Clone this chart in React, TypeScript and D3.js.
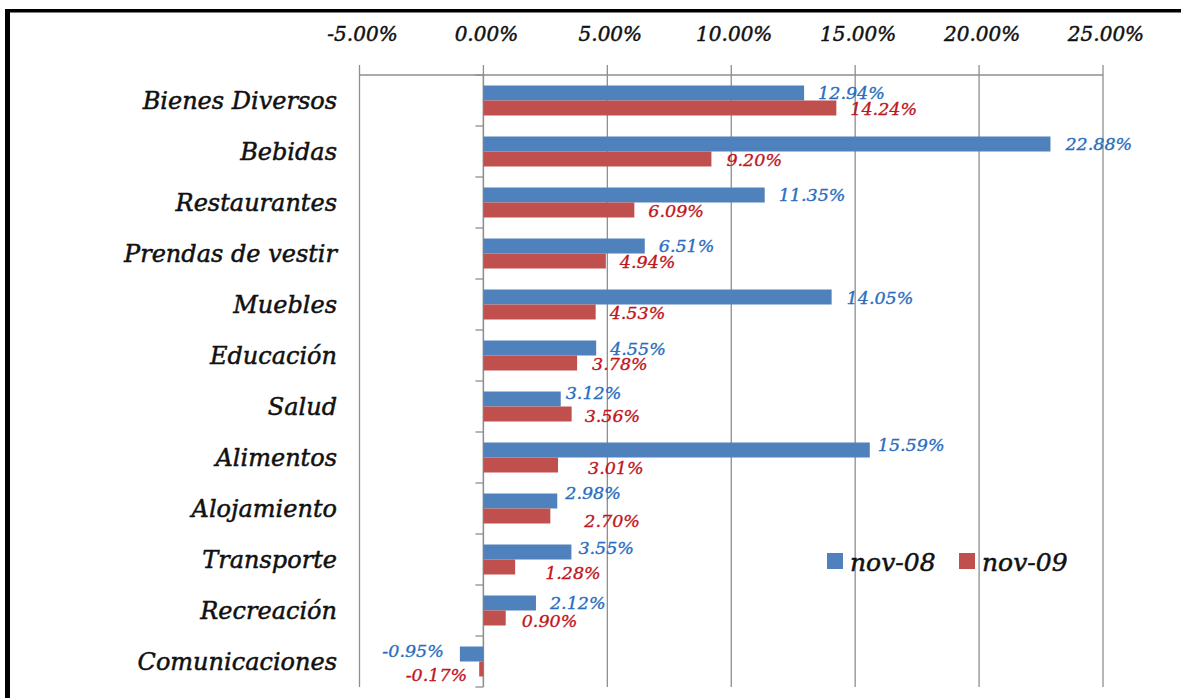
import React from "react";
import * as d3 from "d3";

const categories = [
  "Bienes Diversos",
  "Bebidas",
  "Restaurantes",
  "Prendas de vestir",
  "Muebles",
  "Educación",
  "Salud",
  "Alimentos",
  "Alojamiento",
  "Transporte",
  "Recreación",
  "Comunicaciones",
];
const nov08 = [12.94, 22.88, 11.35, 6.51, 14.05, 4.55, 3.12, 15.59, 2.98, 3.55, 2.12, -0.95];
const nov09 = [14.24, 9.2, 6.09, 4.94, 4.53, 3.78, 3.56, 3.01, 2.7, 1.28, 0.9, -0.17];
const tickValues = [-5, 0, 5, 10, 15, 20, 25];
const seriesNames = ["nov-08", "nov-09"];

// layout tweaks for the data labels (px), kept apart from the data
const blueDx = [14, 15, 14, 14, 15, 14, 5, 8, 8, 7, 14, 16];
const blueDy = [0, 0, 0, 0, 1, 1, -6, -5, -8, -4, 0, -3];
const redDx = [14, 15, 14, 14, 14, 15, 13, 30, 34, 30, 16, 12];
const redDy = [1, 1, 1, 1, 1, 1, 2, 3, 5, 6, 3, 6];

const W = 1181;
const H = 698;
const FONT = "'DejaVu Serif', serif";
const BLUE = "#4F81BD";
const RED = "#C0504D";
const BLUE_TXT = "#2A6EBF";
const RED_TXT = "#C0161C";
const GRID = "#8E8E8E";

const fmt = d3.formatLocale({
  decimal: ".",
  thousands: ",",
  grouping: [3],
  currency: ["$", ""],
  minus: "-",
}).format(".2f");
const pct = (v: number) => fmt(v) + "%";

export default function App() {
  const x = d3.scaleLinear().domain([-5, 25]).range([359.5, 1103]);
  const y = d3.scaleBand<string>().domain(categories).range([75, 687]).padding(0);
  const bw = y.bandwidth();
  const barH = bw * 0.294;
  const x0 = x(0);
  const top = 75;
  const bottom = 687;

  const labelFs = 17.5;
  const digitHalf = labelFs * 0.729 * 0.5;

  const renderLabel = (v: number, cy: number, dx: number, dy: number, color: string, key: string) => {
    const end = x(v);
    const neg = v < 0;
    return (
      <text
        key={key}
        x={neg ? end - dx : end + dx}
        y={cy + dy + digitHalf}
        textAnchor={neg ? "end" : "start"}
        fontFamily={FONT}
        fontStyle="italic"
        fontSize={labelFs}
        fill={color}
        stroke={color}
        strokeWidth={0.35}
      >
        {pct(v)}
      </text>
    );
  };

  return (
    <div>
      <style>{"body{margin:0;}"}</style>
      <svg width={W} height={H} style={{ display: "block", background: "#fff" }}>
        {/* frame */}
        <rect x={0} y={0} width={W} height={H} fill="#fff" />
        <line x1={7.5} y1={10} x2={7.5} y2={H} stroke="#000" strokeWidth={5} />
        <line x1={5} y1={10.7} x2={W} y2={10.7} stroke="#000" strokeWidth={3.4} />

        {/* vertical gridlines */}
        {tickValues.map((t) => (
          <line key={"g" + t} x1={x(t)} x2={x(t)} y1={top - 10} y2={bottom} stroke={GRID} strokeWidth={1.3} />
        ))}
        {/* top axis line */}
        <line x1={x(-5)} x2={x(25)} y1={top} y2={top} stroke={GRID} strokeWidth={1.3} />
        {/* tick labels */}
        {tickValues.map((t) => (
          <text
            key={"t" + t}
            x={x(t) + 3}
            y={41}
            textAnchor="middle"
            fontFamily={FONT}
            fontStyle="italic"
            fontSize={20}
            fill="#111"
            stroke="#111"
            strokeWidth={0.45}
          >
            {pct(t)}
          </text>
        ))}

        {/* category axis */}
        <line x1={x0} x2={x0} y1={top} y2={bottom} stroke={GRID} strokeWidth={1.3} />
        {categories.map((c, i) => (
          <line key={"ct" + i} x1={x0 - 8} x2={x0} y1={(y(c) as number) + bw} y2={(y(c) as number) + bw} stroke={GRID} strokeWidth={1.3} />
        ))}
        <line x1={x0 - 8} x2={x0} y1={top} y2={top} stroke={GRID} strokeWidth={1.3} />

        {/* bars */}
        {categories.map((c, i) => {
          const cy = (y(c) as number) + bw / 2;
          const a = nov08[i];
          const b = nov09[i];
          return (
            <g key={"b" + i}>
              <rect x={Math.min(x(a), x0)} y={cy - barH} width={Math.abs(x(a) - x0)} height={barH} fill={BLUE} />
              <rect x={Math.min(x(b), x0)} y={cy} width={Math.abs(x(b) - x0)} height={barH} fill={RED} />
            </g>
          );
        })}

        {/* category labels */}
        {categories.map((c, i) => (
          <text
            key={"cl" + i}
            x={337}
            y={(y(c) as number) + bw / 2 + 8}
            textAnchor="end"
            fontFamily={FONT}
            fontStyle="italic"
            fontSize={24}
            fill="#111"
            stroke="#111"
            strokeWidth={0.5}
          >
            {c}
          </text>
        ))}

        {/* data labels */}
        {categories.map((c, i) => {
          const cy = (y(c) as number) + bw / 2;
          return (
            <g key={"dl" + i}>
              {renderLabel(nov08[i], cy - barH / 2, blueDx[i], blueDy[i], BLUE_TXT, "a" + i)}
              {renderLabel(nov09[i], cy + barH / 2, redDx[i], redDy[i], RED_TXT, "b" + i)}
            </g>
          );
        })}

        {/* legend */}
        <rect x={827} y={553} width={16} height={16} fill={BLUE} />
        <text x={850} y={571} fontFamily={FONT} fontStyle="italic" fontSize={25} fill="#111" stroke="#111" strokeWidth={0.5}>
          {seriesNames[0]}
        </text>
        <rect x={959} y={553} width={16} height={16} fill={RED} />
        <text x={982} y={571} fontFamily={FONT} fontStyle="italic" fontSize={25} fill="#111" stroke="#111" strokeWidth={0.5}>
          {seriesNames[1]}
        </text>
      </svg>
    </div>
  );
}
